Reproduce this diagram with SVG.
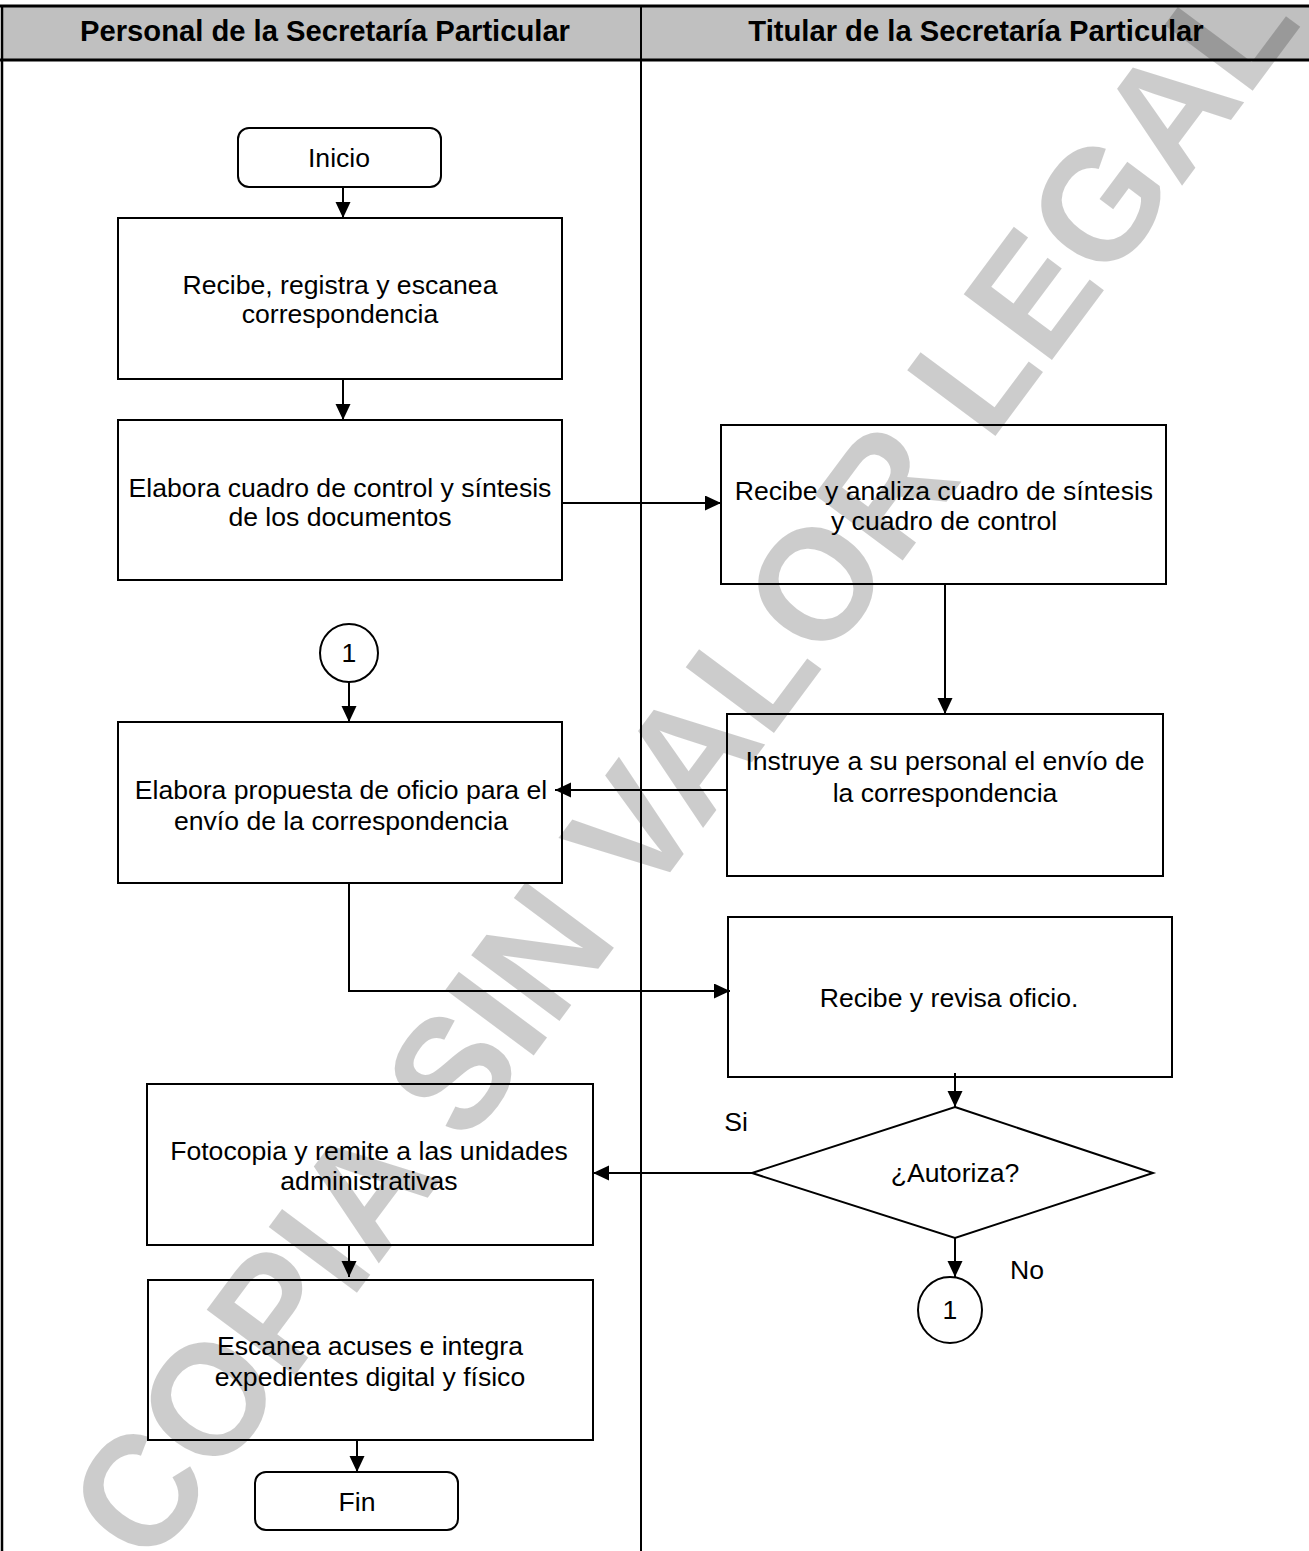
<svg xmlns="http://www.w3.org/2000/svg" width="1309" height="1551" viewBox="0 0 1309 1551">
<defs>
<marker id="ah" markerUnits="userSpaceOnUse" markerWidth="18" markerHeight="16" refX="16" refY="7.5" orient="auto">
<path d="M0,0 L16,7.5 L0,15 z" fill="#000"/>
</marker>
<style>
.box{fill:none;stroke:#000;stroke-width:2}
.t{font-family:"Liberation Sans",Arial,sans-serif;font-size:26.6px;fill:#000;text-anchor:middle}
.h{font-family:"Liberation Sans",Arial,sans-serif;font-size:29.2px;font-weight:bold;fill:#000;text-anchor:middle}
.c{fill:none;stroke:#000;stroke-width:2}
.wm{font-family:"Liberation Sans",Arial,sans-serif;font-weight:bold;font-size:160px;fill:#000;fill-opacity:0.2;text-anchor:middle}
</style>
</defs>
<rect x="0" y="0" width="1309" height="1551" fill="#fff"/>
<g id="lanes">
<rect x="2" y="6" width="1309" height="54" fill="#c0c0c0"/>
<line x1="0" y1="6" x2="1309" y2="6" stroke="#000" stroke-width="3"/>
<line x1="0" y1="60" x2="1309" y2="60" stroke="#000" stroke-width="3"/>
<line x1="2" y1="6" x2="2" y2="1551" stroke="#000" stroke-width="2.5"/>
<line x1="641" y1="6" x2="641" y2="1551" stroke="#000" stroke-width="2"/>
<text class="h" x="325" y="41">Personal de la Secretaría Particular</text>
<text class="h" x="976" y="41">Titular de la Secretaría Particular</text>
</g>
<g id="n-inicio"><rect class="box" x="238" y="128" width="203" height="59" rx="11"/><text class="t" x="339" y="167">Inicio</text></g>
<g id="n-recibe"><rect class="box" x="118" y="218" width="444" height="161"/><text class="t" x="340" y="294">Recibe, registra y escanea</text><text class="t" x="340" y="323">correspondencia</text></g>
<g id="n-elabora-cuadro"><rect class="box" x="118" y="420" width="444" height="160"/><text class="t" x="340" y="497">Elabora cuadro de control y síntesis</text><text class="t" x="340" y="526">de los documentos</text></g>
<g id="n-analiza"><rect class="box" x="721" y="425" width="445" height="159"/><text class="t" x="944" y="500">Recibe y analiza cuadro de síntesis</text><text class="t" x="944" y="530">y cuadro de control</text></g>
<g id="n-instruye"><rect class="box" x="727" y="714" width="436" height="162"/><text class="t" x="945" y="770">Instruye a su personal el envío de</text><text class="t" x="945" y="802">la correspondencia</text></g>
<g id="n-conector1a"><circle class="box" cx="349" cy="653" r="29"/><text class="t" x="349" y="662">1</text></g>
<g id="n-propuesta"><rect class="box" x="118" y="722" width="444" height="161"/><text class="t" x="341" y="799">Elabora propuesta de oficio para el</text><text class="t" x="341" y="830">envío de la correspondencia</text></g>
<g id="n-revisa"><rect class="box" x="728" y="917" width="444" height="160"/><text class="t" x="949" y="1007">Recibe y revisa oficio.</text></g>
<g id="n-autoriza"><polygon class="box" points="955,1107 1153,1173 955,1238 752,1173"/><text class="t" x="955" y="1182">¿Autoriza?</text></g>
<g id="n-fotocopia"><rect class="box" x="147" y="1084" width="446" height="161"/><text class="t" x="369" y="1160">Fotocopia y remite a las unidades</text><text class="t" x="369" y="1190">administrativas</text></g>
<g id="n-escanea"><rect class="box" x="148" y="1280" width="445" height="160"/><text class="t" x="370" y="1355">Escanea acuses e integra</text><text class="t" x="370" y="1386">expedientes digital y físico</text></g>
<g id="n-fin"><rect class="box" x="255" y="1472" width="203" height="58" rx="11"/><text class="t" x="357" y="1511">Fin</text></g>
<g id="n-conector1b"><ellipse class="box" cx="950" cy="1310" rx="32" ry="33"/><text class="t" x="950" y="1319">1</text></g>
<g id="connectors">
<line class="c" x1="343" y1="187" x2="343" y2="218" marker-end="url(#ah)"/>
<line class="c" x1="343" y1="379" x2="343" y2="420" marker-end="url(#ah)"/>
<line class="c" x1="562" y1="503" x2="721" y2="503" marker-end="url(#ah)"/>
<line class="c" x1="945" y1="584" x2="945" y2="714" marker-end="url(#ah)"/>
<line class="c" x1="727" y1="790" x2="555" y2="790" marker-end="url(#ah)"/>
<line class="c" x1="349" y1="682" x2="349" y2="722" marker-end="url(#ah)"/>
<polyline class="c" points="349,883 349,991 730,991" marker-end="url(#ah)"/>
<line class="c" x1="955" y1="1073" x2="955" y2="1107" marker-end="url(#ah)"/>
<line class="c" x1="752" y1="1173" x2="593" y2="1173" marker-end="url(#ah)"/>
<line class="c" x1="349" y1="1245" x2="349" y2="1277" marker-end="url(#ah)"/>
<line class="c" x1="357" y1="1440" x2="357" y2="1472" marker-end="url(#ah)"/>
<line class="c" x1="955" y1="1238" x2="955" y2="1277" marker-end="url(#ah)"/>
<text class="t" x="736" y="1131">Si</text>
<text class="t" x="1027" y="1279">No</text>
</g>
<g id="watermark">
<text class="wm" transform="translate(680,762) rotate(-53.3)" y="58" textLength="1930" lengthAdjust="spacingAndGlyphs">COPIA SIN VALOR LEGAL</text>
</g>
</svg>
